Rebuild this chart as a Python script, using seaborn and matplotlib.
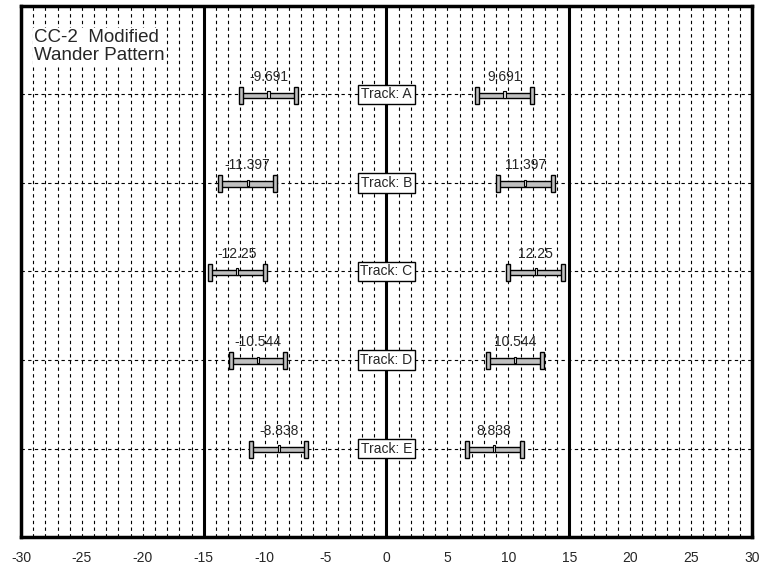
import numpy as np
import pandas as pd
import matplotlib
matplotlib.use("Agg")
import matplotlib.pyplot as plt
import seaborn as sns

# Datos del patron de desplazamiento
tracks = ["A", "B", "C", "D", "E"]
offsets = [9.691, 11.397, 12.25, 10.544, 8.838]
half_width = 2.25
x_ticks = [-30, -25, -20, -15, -10, -5, 0, 5, 10, 15, 20, 25, 30]

sns.set_style("white")
plt.rcParams['font.family'] = ['Liberation Sans', 'DejaVu Sans']
plt.rcParams['axes.unicode_minus'] = False

df = pd.DataFrame({"track": tracks, "offset": offsets})
df["pos"] = np.arange(1, len(tracks) + 1)
left = pd.DataFrame({"track": df["track"], "center": -df["offset"], "pos": df["pos"]})
right = pd.DataFrame({"track": df["track"], "center": df["offset"], "pos": df["pos"]})
wheels = pd.concat([left, right], ignore_index=True)

fig = plt.figure(figsize=(7.83, 5.8), dpi=100)
ax = fig.add_axes([0.0268, 0.0741, 0.9336, 0.9156])

# Rejilla vertical
for x in range(-29, 30):
    if x in (-15, 0, 15):
        ax.axvline(x, color="black", lw=2.2, zorder=1)
    else:
        ax.axvline(x, color="black", lw=0.8, ls=(0, (3, 3)), zorder=1)
for p in df["pos"]:
    ax.axhline(p, color="black", lw=0.8, ls=(0, (3, 3)), zorder=1)

# Barras
ax.barh(wheels["pos"] + 0.01, 2 * half_width, left=wheels["center"] - half_width,
        height=0.06, color="#c0c0c0", edgecolor="black", lw=1, zorder=3)
for side in (-1, 1):
    ax.barh(wheels["pos"] + 0.01, 0.33, left=wheels["center"] + side * half_width - 0.165,
            height=0.19, color="#c0c0c0", edgecolor="black", lw=1, zorder=4)
ax.barh(wheels["pos"], 0.18, left=wheels["center"] - 0.09,
        height=0.07, color="#e0e0e0", edgecolor="black", lw=0.8, zorder=5)

for _, r in wheels.iterrows():
    ax.text(r["center"], r["pos"] - 0.2, "{:g}".format(r["center"]),
            ha="center", va="center", fontsize=10, zorder=6)

for _, r in df.iterrows():
    ax.text(0, r["pos"], "Track: " + r["track"], ha="center", va="center",
            fontsize=10, zorder=6,
            bbox=dict(boxstyle="square,pad=0.2", fc="white", ec="black", lw=1))

ax.text(-28.9, 0.46, "CC-2  Modified\nWander Pattern", fontsize=13.5,
        ha="left", va="center", linespacing=1.1, zorder=6,
        bbox=dict(boxstyle="square,pad=0.05", fc="white", ec="none"))

ax.set_xlim(-30, 30)
ax.set_ylim(6, 0)
ax.set_xticks(x_ticks)
ax.set_yticks([])
ax.tick_params(axis="x", direction="out", length=4, width=1, labelsize=10, pad=6)
for s in ax.spines.values():
    s.set_linewidth(2.5)
    s.set_color("black")

fig.savefig("out.png", dpi=100)
